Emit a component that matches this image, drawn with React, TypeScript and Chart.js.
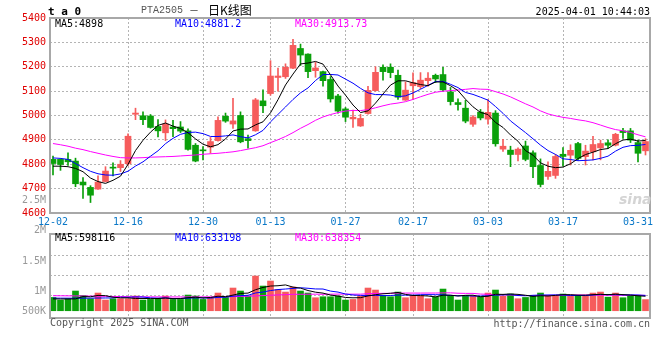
import React, { useEffect, useRef } from "react";
import { Chart, registerables } from "chart.js";

Chart.register(...registerables);

// ---------- data ----------
const tickIndex = [0, 10, 20, 29, 39, 48, 58, 68, 78];
const tickLabels = ["12-02", "12-16", "12-30", "01-13", "01-27", "02-17", "03-03", "03-17", "03-31"];

const opens = [
  4820, 4820, 4820, 4813, 4727, 4705, 4698, 4729, 4788, 4786,
  4802, 5005, 4999, 4998, 4955, 4929, 4953, 4953, 4937, 4878,
  4859, 4870, 4897, 4997, 4965, 5000, 4905, 4937, 5060, 5090,
  5156, 5159, 5194, 5275, 5252, 5184, 5180, 5148, 5080, 5027,
  4986, 4957, 5008, 5102, 5198, 5198, 5165, 5063, 5122, 5118,
  5143, 5165, 5168, 5097, 5053, 5030, 4964, 5014, 4985, 5010,
  4862, 4858, 4840, 4875, 4847, 4795, 4750, 4754, 4841, 4837,
  4885, 4831, 4851, 4867, 4888, 4878, 4937, 4937, 4889, 4855,
];
const highs = [
  4834, 4823, 4847, 4825, 4745, 4712, 4752, 4790, 4806, 4815,
  4925, 5030, 5015, 5004, 4983, 4982, 4980, 4975, 4945, 4885,
  4872, 4910, 4995, 5010, 5070, 5015, 4920, 5070, 5105, 5225,
  5195, 5212, 5313, 5293, 5253, 5218, 5182, 5160, 5087, 5033,
  5022, 5005, 5120, 5200, 5208, 5212, 5186, 5138, 5175, 5176,
  5176, 5170, 5198, 5115, 5068, 5062, 5000, 5025, 5065, 5020,
  4902, 4874, 4867, 4895, 4855, 4822, 4810, 4840, 4868, 4880,
  4890, 4878, 4915, 4899, 4900, 4927, 4947, 4947, 4899, 4905,
];
const lows = [
  4756, 4775, 4795, 4708, 4660, 4643, 4697, 4727, 4752, 4770,
  4795, 4983, 4962, 4948, 4912, 4897, 4913, 4930, 4858, 4810,
  4818, 4845, 4895, 4972, 4947, 4888, 4866, 4935, 5012, 5083,
  5100, 5152, 5192, 5205, 5155, 5157, 5120, 5055, 5010, 4975,
  4951, 4955, 5005, 5100, 5145, 5155, 5066, 5062, 5065, 5110,
  5120, 5135, 5100, 5043, 5022, 4970, 4955, 4982, 4964, 4874,
  4853, 4790, 4814, 4814, 4745, 4707, 4738, 4742, 4792, 4797,
  4817, 4797, 4818, 4818, 4865, 4875, 4906, 4889, 4810, 4838,
];
const closes = [
  4803, 4799, 4810, 4720, 4715, 4673, 4727, 4772, 4784, 4800,
  4915, 5010, 4983, 4951, 4937, 4965, 4946, 4936, 4861, 4813,
  4855, 4893, 4980, 4977, 4978, 4892, 4897, 5064, 5040, 5162,
  5162, 5198, 5288, 5248, 5180, 5195, 5143, 5068, 5018, 4993,
  4993, 4988, 5103, 5177, 5180, 5176, 5075, 5104, 5135, 5145,
  5153, 5150, 5105, 5057, 5045, 4977, 4994, 4990, 5013, 4884,
  4874, 4840, 4862, 4820, 4790, 4717, 4771, 4832, 4832, 4857,
  4824, 4854, 4881, 4885, 4878, 4923, 4930, 4899, 4845, 4893,
];
const volumes = [
  550000, 442000, 496000, 814000, 632000, 496000, 731000, 442000, 496000, 496000,
  496000, 607000, 442000, 467000, 508000, 607000, 467000, 467000, 648000, 607000,
  467000, 549000, 731000, 549000, 938000, 814000, 607000, 1433000, 1020000, 1227000,
  880000, 772000, 979000, 814000, 731000, 537000, 578000, 578000, 607000, 442000,
  467000, 607000, 938000, 855000, 632000, 578000, 772000, 537000, 632000, 607000,
  496000, 578000, 896000, 632000, 442000, 632000, 607000, 578000, 731000, 855000,
  607000, 690000, 496000, 549000, 632000, 731000, 632000, 632000, 690000, 632000,
  632000, 632000, 731000, 772000, 560000, 731000, 537000, 632000, 632000, 460000,
];

// moving-average values before each window is complete
const ma5Head = [4792, 4792, 4790, 4783];
const ma10Head = [4826, 4824, 4820, 4803, 4786, 4771, 4761, 4756, 4755];
const ma30Head = [
  4885, 4880, 4874, 4866, 4860, 4852, 4845, 4838, 4832, 4827,
  4826, 4826, 4827, 4829, 4830, 4831, 4832, 4834, 4836, 4838,
  4841, 4843, 4845, 4848, 4851, 4856, 4862, 4868, 4876,
];
const volMa5Head = [490000, 488000, 486000, 490000];
const volMa10Head = [520000, 520000, 518000, 518000, 520000, 522000, 525000, 528000, 530000];
const volMa30Head = [
  620000, 618000, 615000, 612000, 610000, 605000, 600000, 595000, 590000, 585000,
  580000, 577000, 575000, 573000, 572000, 571000, 570000, 570000, 570000, 571000,
  572000, 574000, 577000, 580000, 585000, 592000, 600000, 612000, 625000,
];

const priceLegend = ["MA5:4898", "MA10:4881.2", "MA30:4913.73"];
const volLegend = ["MA5:598116", "MA10:633198", "MA30:638354"];
const volAxisLabels = ["2.5M", "2M", "1.5M", "1M", "500K"];

const PRICE_MIN = 4600;
const PRICE_MAX = 5400;
const PRICE_STEP = 100;
const VOL_MIN = -300000;
const VOL_MAX = 3170000;
const volGridValues = [650000, 1475000, 2300000];

// ---------- styles ----------
const MONO = '"DejaVu Sans Mono", "Liberation Mono", monospace';
const RED = "#f65c5c";
const GREEN = "#0aa00a";
const FRAME = "#a8a8a8";
const GRID = "#b4b4b4";
const MA_COLORS = ["#000000", "#0000ff", "#ff00ff"];

function movingAvg(src: number[], n: number, head: number[]) {
  return src.map((_, i) => {
    if (i < n - 1) return head[i];
    let s = 0;
    for (let k = i - n + 1; k <= i; k++) s += src[k];
    return s / n;
  });
}

// solid frame round the plot area
const framePlugin = {
  id: "frame",
  afterDatasetsDraw(chart: any) {
    const ctx = chart.ctx;
    const a = chart.chartArea;
    const L = Math.round(a.left);
    const R = Math.round(a.right);
    const T = Math.round(a.top);
    const B = Math.round(a.bottom);
    ctx.save();
    ctx.strokeStyle = FRAME;
    ctx.lineWidth = 2;
    ctx.strokeRect(L, T, R - L, B - T);
    ctx.restore();
  },
};

function xScale(showLabels: boolean) {
  return {
    type: "linear",
    min: 0,
    max: closes.length,
    offset: false,
    afterBuildTicks: (s: any) => {
      s.ticks = tickIndex.map((i) => ({ value: i + 0.4 }));
    },
    afterFit: (s: any) => {
      s.height = showLabels ? 17 : 0;
    },
    ticks: {
      display: showLabels,
      autoSkip: false,
      maxRotation: 0,
      minRotation: 0,
      color: "#0a78c8",
      font: { family: MONO, size: 10 },
      padding: 3,
      callback: (_v: any, i: number) => tickLabels[i],
    },
    grid: {
      display: true,
      offset: false,
      drawTicks: false,
      lineWidth: 1,
      color: (c: any) =>
        c.index === 0 || c.index === tickIndex.length - 1 ? "rgba(255,255,255,0)" : GRID,
    },
    border: { display: false, dash: [2, 2] },
  };
}

function lineDs(values: number[], color: string) {
  return {
    type: "line",
    data: values.map((y, i) => ({ x: i + 0.4, y })),
    borderColor: color,
    borderWidth: 1,
    pointRadius: 0,
    tension: 0,
    order: 0,
  };
}

const Txt = ({ s, style }: { s: string; style: React.CSSProperties }) => (
  <span
    style={{
      position: "absolute",
      whiteSpace: "pre",
      fontFamily: MONO,
      fontSize: 10,
      lineHeight: "12px",
      ...style,
    }}
  >
    {s}
  </span>
);

export default function App() {
  const priceRef = useRef<HTMLCanvasElement>(null);
  const volRef = useRef<HTMLCanvasElement>(null);

  useEffect(() => {
    const colors = closes.map((c, i) => (c >= opens[i] ? RED : GREEN));
    const ma5 = movingAvg(closes, 5, ma5Head);
    const ma10 = movingAvg(closes, 10, ma10Head);
    const ma30 = movingAvg(closes, 30, ma30Head);
    const vma5 = movingAvg(volumes, 5, volMa5Head);
    const vma10 = movingAvg(volumes, 10, volMa10Head);
    const vma30 = movingAvg(volumes, 30, volMa30Head);

    const common: any = {
      responsive: false,
      animation: false,
      events: [],
      plugins: { legend: { display: false }, tooltip: { enabled: false } },
    };

    const price = new Chart(priceRef.current as HTMLCanvasElement, {
      type: "bar",
      data: {
        datasets: [
          lineDs(ma5, MA_COLORS[0]),
          lineDs(ma10, MA_COLORS[1]),
          lineDs(ma30, MA_COLORS[2]),
          {
            type: "bar",
            data: closes.map((c, i) => ({ x: i + 0.4, y: [opens[i], c] })),
            backgroundColor: colors,
            barThickness: 6,
            minBarLength: 1,
            grouped: false,
            order: 1,
          },
          {
            type: "bar",
            data: closes.map((_, i) => ({ x: i + 0.4, y: [lows[i], highs[i]] })),
            backgroundColor: colors,
            barThickness: 1,
            grouped: false,
            order: 2,
          },
        ] as any,
      },
      options: {
        ...common,
        layout: { padding: { top: 18, right: 10, left: 0, bottom: 0 } },
        scales: {
          x: xScale(true) as any,
          y: {
            type: "linear",
            min: PRICE_MIN,
            max: PRICE_MAX,
            afterFit: (s: any) => {
              s.width = 50;
            },
            ticks: {
              stepSize: PRICE_STEP,
              color: "#e00000",
              font: { family: MONO, size: 10 },
              padding: 4,
              callback: (v: any) => String(v),
            },
            grid: { display: true, drawTicks: false, color: GRID, lineWidth: 1 },
            border: { display: false, dash: [2, 2] },
          } as any,
        },
      },
      plugins: [framePlugin],
    });

    const vol = new Chart(volRef.current as HTMLCanvasElement, {
      type: "bar",
      data: {
        datasets: [
          lineDs(vma5, MA_COLORS[0]),
          lineDs(vma10, MA_COLORS[1]),
          lineDs(vma30, MA_COLORS[2]),
          {
            type: "bar",
            data: volumes.map((v, i) => ({ x: i + 0.4, y: v })),
            backgroundColor: colors,
            barThickness: 6,
            grouped: false,
            order: 1,
          },
        ] as any,
      },
      options: {
        ...common,
        layout: { padding: { top: 8, right: 10, left: 0, bottom: 1 } },
        scales: {
          x: xScale(false) as any,
          y: {
            type: "linear",
            min: VOL_MIN,
            max: VOL_MAX,
            afterBuildTicks: (s: any) => {
              s.ticks = volGridValues.map((v) => ({ value: v }));
            },
            afterFit: (s: any) => {
              s.width = 50;
            },
            ticks: { display: false },
            grid: { display: true, drawTicks: false, color: GRID, lineWidth: 1 },
            border: { display: false, dash: [2, 2] },
          } as any,
        },
      },
      plugins: [framePlugin],
    });

    return () => {
      price.destroy();
      vol.destroy();
    };
  }, []);

  const volLabelY = [200, 230, 261, 291, 311];

  return (
    <div
      style={{
        position: "fixed",
        left: 0,
        top: 0,
        width: 660,
        height: 360,
        background: "#ffffff",
        overflow: "hidden",
      }}
    >
      <canvas
        ref={priceRef}
        width={660}
        height={230}
        style={{ position: "absolute", left: 0, top: 0 }}
      />
      <canvas
        ref={volRef}
        width={660}
        height={93}
        style={{ position: "absolute", left: 0, top: 226 }}
      />

      {/* header */}
      <Txt s="t a 0" style={{ left: 48, top: 5, fontSize: 11, fontWeight: "bold", lineHeight: "13px" }} />
      <Txt s="PTA2505" style={{ left: 141, top: 5, color: "#555", fontFamily: '"Liberation Mono", monospace' }} />
      <Txt s="－" style={{ left: 189, top: 4, color: "#333", fontFamily: '"Noto Sans CJK SC", sans-serif' }} />
      <Txt
        s="日K线图"
        style={{ left: 208, top: 3, fontSize: 12, lineHeight: "14px", color: "#000", fontFamily: '"Noto Sans CJK SC", sans-serif' }}
      />
      <Txt s="2025-04-01 10:44:03" style={{ right: 10, top: 6, color: "#000" }} />

      {/* price MA legend */}
      {priceLegend.map((s, i) => (
        <Txt key={s} s={s} style={{ left: 55 + i * 120, top: 18, color: MA_COLORS[i] }} />
      ))}

      {/* volume axis labels */}
      {volAxisLabels.map((s, i) => (
        <Txt key={s} s={s} style={{ right: 614, top: volLabelY[i] - 6, color: "#999" }} />
      ))}

      {/* volume MA legend */}
      {volLegend.map((s, i) => (
        <Txt key={s} s={s} style={{ left: 55 + i * 120, top: 232, color: MA_COLORS[i] }} />
      ))}

      {/* watermark */}
      <Txt
        s="sina"
        style={{ left: 619, top: 191, fontSize: 14, fontStyle: "italic", fontWeight: "bold", color: "#d4d4d4", fontFamily: '"DejaVu Sans", sans-serif', lineHeight: "16px" }}
      />

      {/* footer */}
      <Txt s="Copyright 2025 SINA.COM" style={{ left: 50, top: 317, color: "#555" }} />
      <Txt s="http://finance.sina.com.cn" style={{ right: 10, top: 318, color: "#555" }} />
    </div>
  );
}
